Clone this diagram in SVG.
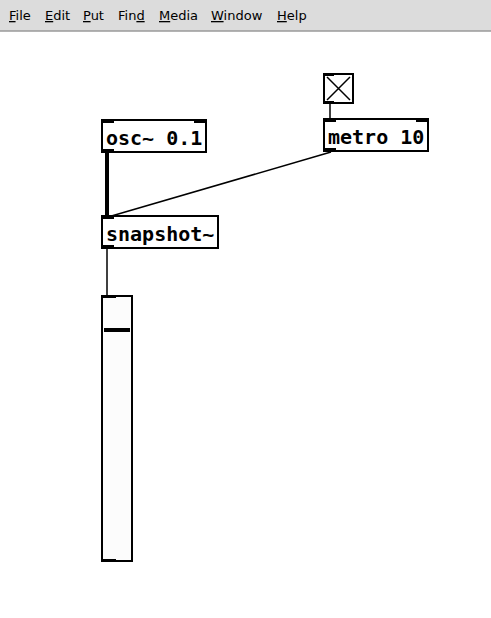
<svg xmlns="http://www.w3.org/2000/svg" width="491" height="618" viewBox="0 0 491 618">
<style>
.menu{font-family:"DejaVu Sans","Liberation Sans",sans-serif;font-size:13px;fill:#000}
.u{text-decoration:underline}
.box{fill:#fff;stroke:#000;stroke-width:2}
.io{fill:#000}
.lbl{font-family:"DejaVu Sans Mono","Liberation Mono",monospace;font-weight:bold;font-size:20px;fill:#000}
.sig{stroke:#000;stroke-width:4;fill:none}
.ctl{stroke:#000;stroke-width:1.5;fill:none}
</style>
<rect x="0" y="0" width="491" height="618" fill="#fff"/>
<g id="menubar">
<rect x="0" y="0" width="491" height="31" fill="#dcdcdc"/>
<line x1="0" y1="31" x2="491" y2="31" stroke="#9a9a9a" stroke-width="1.5"/>
<text class="menu" y="20"><tspan x="9"><tspan class="u">F</tspan>ile</tspan><tspan x="45"><tspan class="u">E</tspan>dit</tspan><tspan x="83"><tspan class="u">P</tspan>ut</tspan><tspan x="118">Fin<tspan class="u">d</tspan></tspan><tspan x="159"><tspan class="u">M</tspan>edia</tspan><tspan x="211"><tspan class="u">W</tspan>indow</tspan><tspan x="277"><tspan class="u">H</tspan>elp</tspan></text>
</g>
<g id="connectors">
<line class="sig" x1="107" y1="152" x2="107" y2="217"/>
<line class="ctl" x1="331" y1="152" x2="108" y2="217"/>
<line class="ctl" x1="330" y1="103" x2="330" y2="119"/>
<line class="ctl" x1="107" y1="248" x2="107" y2="296"/>
</g>
<g id="osc">
<rect class="box" x="102" y="120" width="104" height="32"/>
<rect class="io" x="101" y="119" width="13" height="4"/>
<rect class="io" x="194" y="119" width="13" height="4"/>
<rect class="io" x="101" y="149" width="13" height="4"/>
<text class="lbl" x="106" y="145">osc~ 0.1</text>
</g>
<g id="metro">
<rect class="box" x="324" y="119" width="104" height="32"/>
<rect class="io" x="323" y="118" width="13" height="4"/>
<rect class="io" x="416" y="118" width="13" height="4"/>
<rect class="io" x="323" y="148" width="13" height="4"/>
<text class="lbl" x="328" y="144">metro 10</text>
</g>
<g id="toggle">
<rect class="box" x="324" y="74" width="29" height="29"/>
<rect class="io" x="323" y="73" width="11" height="3"/>
<rect class="io" x="323" y="101" width="11" height="3"/>
<path d="M327 77 L350 100 M350 77 L327 100" stroke="#000" stroke-width="1.5" fill="none"/>
</g>
<g id="snapshot">
<rect class="box" x="102" y="216" width="116" height="32"/>
<rect class="io" x="101" y="215" width="13" height="4"/>
<rect class="io" x="101" y="245" width="13" height="4"/>
<text class="lbl" x="106" y="241">snapshot~</text>
</g>
<g id="slider">
<rect class="box" x="102" y="296" width="30" height="265" style="fill:#fcfcfc"/>
<rect class="io" x="101" y="295" width="15" height="3"/>
<rect class="io" x="101" y="559" width="15" height="3"/>
<rect class="io" x="104" y="328" width="26" height="4"/>
</g>
</svg>
